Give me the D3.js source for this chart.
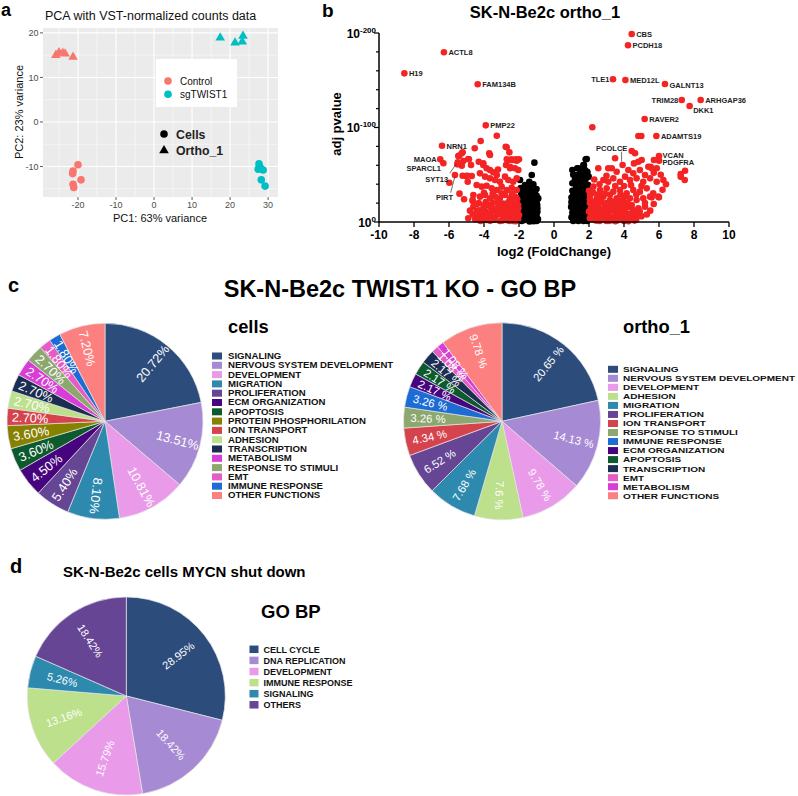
<!DOCTYPE html>
<html><head><meta charset="utf-8">
<script src="https://cdn.jsdelivr.net/npm/d3@7"></script>
<style>body{margin:0;background:#fff} svg{display:block} text{font-family:"Liberation Sans",Arial,sans-serif}</style>
</head><body><svg id="c" width="798" height="796"></svg>
<script>
// ---------- Panel a: PCA ----------
const pcaControlCells = [[-20,-9.6],[-21.3,-11],[-21.4,-11.6],[-19.2,-13.0],[-21.3,-14.0],[-21.1,-14.7]];
const pcaControlOrtho = [[-25.8,15.0],[-25.0,15.6],[-24.0,15.5],[-23.4,15.3],[-21.3,14.6]];
const pcaTwistCells = [[27.6,-9.4],[27.4,-10.6],[28.7,-10.8],[28.2,-13.0],[29.2,-14.4],[27.9,-10.2]];
const pcaTwistOrtho = [[17.4,18.9],[21.3,17.8],[23.2,18.0],[23.4,19.3]];
const pcaXTicks = [-20,-10,0,10,20,30];
const pcaYTicks = [-10,0,10,20];
const pcaGroups = ["Control","sgTWIST1"];
const pcaShapes = ["Cells","Ortho_1"];

// ---------- Panel b: volcano ----------
const volcLabeled = [
 ["ACTL8",-6.29,179.6],["H19",-8.55,157.3],["FAM134B",-4.36,145.7],["PMP22",-3.9,102.3],["NRN1",-6.4,80.7],
 ["MAOA",-6.5,66.3],["SPARCL1",-6.32,62.1],["SYT13",-5.5,63.2],["PIRT",-5.66,49.7],
 ["CBS",4.44,198.9],["PCDH18",4.23,187],["TLE1",3.37,151],["MED12L",4.08,150.3],["GALNT13",6.34,146],
 ["TRIM28",7.3,129.1],["ARHGAP36",8.38,129.1],["DKK1",7.75,122.8],["RAVER2",5.18,109],["ADAMTS19",5.85,91],
 ["PCOLCE",3.92,60.3],["VCAN",6.0,69.8],["PDGFRA",6.0,64.9]
];
const volcRed = [
 [-3.27,91.3],[-4.19,85.7],[-4.53,78],[-2.7,79],[-2.55,73.7],[-5.22,73.7],[-5.41,70.2],[-3.66,70.9],[-4.9,66.7],[-5.18,64.6],
 [-2.7,66.3],[-2.42,66.3],[-2.17,66.3],[-2.0,66.3],[-5.52,61],[-5.27,59.6],[-4.04,62.1],[-3.85,56.8],[-3.66,55],[-3.47,52.6],
 [-3.27,49.7],[-2.74,60.3],[-2.51,56.8],[-2.23,56.8],[-2.04,55],[-5.03,48.7],[-4.7,48.7],[-4.23,51.5],[-3.94,48],[-3.66,46.2],
 [-3.37,44.4],[-3.09,42.6],[-2.8,48],[-2.61,44.4],[-2.33,42.6],[-2.13,46.2],[-5.98,41.6],[-4.93,42.6],[-4.42,39.2],[-4.13,37.4],
 [-3.85,38.4],[-3.56,35.6],[-3.27,33.9],[-2.99,37.4],[-2.7,33.9],[-2.42,36.3],[-2.13,33.9],[-5.14,24],[-4.65,23.3],[-4.61,28.6],
 [-4.23,26.8],[-3.94,28.6],[-3.66,25.1],[-3.37,26.8],[-3.09,25.1],[-2.8,28.6],[-2.51,25.1],[-2.23,26.8],
 [-4.61,16.2],[-4.42,10.9],[-4.04,14.5],[-3.75,18],[-3.47,12.7],[-3.18,16.2],[-2.9,10.9],[-2.61,14.5],[-2.33,10.9],[-2.04,14.5],
 [-4.13,7.4],[-3.66,5.6],[-3.27,7.4],[-2.9,3.9],[-2.51,5.6],[-2.13,3.9],[-2.0,7.4],[-3.85,2.1],[-3.09,1.1],[-2.33,1.1],
 [-5.47,69.8],[-5.27,72.7],[-3.7,72.7],[-2.76,79.7],[-4.86,66.3],[-4.74,60.3],[-4.3,63.8],[-4.04,60.3],[-2.57,65.6],[-2.33,65.6],
 [-2.13,64.9],[-2.51,58.5],[-5.22,49],[-4.95,49],[-4.65,22.2],
 [-4.3,20],[-3.9,21],[-3.5,20],[-3.2,21],[-2.9,19.5],[-2.6,21],[-2.25,20],[-4.8,12],[-4.9,4],[-4.5,3],[-4.2,1],[-3.6,10],[-3.0,8],
 [-2.7,8.5],[-2.4,17],[-2.15,8],[-2.05,18],[-2.7,2],[-3.4,2.5],[-2.2,0.8],[-4.0,31],[-3.5,30],[-3.0,30.5],[-2.4,30],[-5.4,30],
 [-3.2,55.5],[-2.1,24],[-2.3,14.5],[-2.8,15.5],[-3.9,9],[-4.3,5.5],[-2.45,3],[-3.0,13.5],
 [-4.4,19],[-4.0,17.5],[-3.6,15],[-3.3,14],[-3.0,17],[-2.7,18],[-2.35,14.5],[-2.1,11.5],[-4.65,8],[-4.3,12.5],[-3.95,12],
 [-3.5,4.5],[-3.15,11],[-2.85,13.5],[-2.6,10.5],[-2.3,7],[-2.05,3],[-4.0,4],[-3.75,8.5],[-2.95,1.5],[-2.55,1.2],[-3.65,1.2],
 [-4.35,7.5],[-2.2,23],[-2.5,20.5],
 [2.19,100.2],[4.82,91],[4.99,91],
 [4.44,75.1],[4.63,72.7],[4.82,63.8],[5.01,65.6],[5.39,58.5],[5.58,56.8],[5.87,56.8],[2.53,56.8],[3.3,56.8],[3.58,53.2],[4.25,55],
 [4.53,51.5],[4.91,55],[5.2,49.7],[7.49,54.3],[7.24,50.8],[7.24,48],[7.47,44.4],
 [2.82,44.4],[3.1,42.6],[3.39,46.2],[3.77,42.6],[4.06,48],[4.34,44.4],[4.72,46.2],[5.1,42.6],[5.49,46.2],[5.87,42.6],[6.25,44.4],
 [2.25,37.4],[2.63,33.9],[3.01,35.6],[3.39,32.1],[3.77,33.9],[4.15,30.4],[4.53,33.9],[4.91,32.1],[5.3,35.6],[5.67,30.4],[2.06,28.6],
 [2.44,25.1],[2.82,26.8],[3.2,23.3],[3.58,25.1],[3.96,23.3],[4.34,25.1],[4.72,23.3],[5.1,25.1],[5.49,26.8],[5.96,26.8],[2.53,18],
 [2.91,16.2],[3.3,18],[3.67,16.2],[4.06,14.5],[4.44,18],[4.82,14.5],[5.2,16.2],[5.58,26.1],[6.0,26.1],
 [2.1,14],[2.3,10],[2.5,6],[2.2,3],[2.7,11],[2.9,5],[3.1,9],[3.3,2],[3.5,8],[3.7,4],[3.9,10],[4.1,6],[4.3,2.5],[2.05,20],[2.35,21],
 [2.7,21],[3.0,20],[3.4,12],[3.8,13],[4.2,9],[4.6,8],[5.0,6],[4.0,1],[2.6,1],[2.15,8.5],[2.45,14.5],[3.6,20],[4.5,13],[5.5,12],
 [2.0,33],[2.3,45],[2.6,40],[3.0,49],[3.5,38],[4.0,38],[4.4,39],[3.2,29],[2.9,30],[4.2,20],[5.2,20],[5.7,19],[6.2,34],[6.1,50],
 [5.7,52],[5.0,38],[6.4,40],[4.57,62],[3.49,67.4],[5.71,65.6],[5.52,58.5],[3.1,56.8],[2.05,4],[2.4,1.5],[3.0,1],[3.6,1.5],
 [2.8,8],[3.25,5],[3.85,6.5],[4.7,3],[2.15,17],[2.55,29],[3.8,29],[4.7,29],[4.4,8.5],
 [2.3,17],[2.6,14],[2.9,12],[3.2,14.5],[3.5,16],[3.9,17.5],[4.3,16],[2.2,12],[2.5,9.5],[2.75,3.5],[3.05,4],[3.4,4.5],[3.7,11],
 [4.0,12.5],[4.2,4],[4.5,5],[4.8,9.5],[2.1,6],[2.35,3.5],[2.05,24],[2.6,23],[3.35,21],[3.8,22],[4.05,27],[2.25,31],[4.9,11],
 [5.3,8],[3.15,1.2],[3.5,0.9],[4.25,0.9],[4.6,1.5],[2.0,11]
];
const volcBlack = [
 [-1.12,62.8],[-1.27,49.7],[-1.94,44.4],[-1.66,39.2],[-1.41,42.6],[-1.18,39.9],[-1.37,35.6],[-1.66,32.1],[-1.09,32.1],[-1.85,26.8],
 [-1.52,25.1],[-1.18,25.1],[-0.99,21.5],[-1.75,19.8],[-1.41,18],[-1.09,16.2],[-1.85,12.7],[-1.56,10.9],[-1.22,9.2],[-0.95,10.9],
 [-1.75,5.6],[-1.47,3.9],[-1.09,3.9],[-1.85,1.1],[-1.27,1.1],[-0.99,1.1],
 [-1.98,22],[-1.9,17],[-1.95,8],[-1.6,28],[-1.3,30],[-1.0,28],[-1.5,21],[-1.2,20],[-1.65,15],[-1.35,13],[-1.05,13],[-1.9,4],
 [-1.6,6],[-1.3,6.5],[-1.0,7],[-1.7,2],[-1.4,0.5],[-1.15,0.8],[-0.92,3],[-1.8,9.5],[-1.5,15.5],[-1.25,15],[-0.96,18],[-1.78,23],
 [-1.45,27],[-1.22,33],[-1.55,37],[-1.0,35],[-0.9,25],[-1.88,31],[-1.68,10.5],[-1.38,9],[-1.1,21.5],[-1.28,24],[-1.62,24],
 [-1.9,36],[-1.75,30],[-1.4,3],[-1.6,18.5],[-1.3,19],[-0.95,14.5],[-1.95,13],[-1.45,32],
 [1.87,66.7],[1.68,60.3],[1.39,56.8],[1.77,55],[1.49,51.5],[1.98,48],[1.14,40.9],[1.39,42.6],[1.68,39.2],[1.26,35.6],[1.58,33.9],
 [1.87,35.6],[1.1,28.6],[1.39,26.8],[1.68,28.6],[1.9,25.1],[1.2,21.5],[1.49,19.8],[1.77,20.8],[1.1,14.5],[1.39,12.7],[1.68,14.5],
 [1.9,10.9],[1.2,7.4],[1.49,5.6],[1.77,7.4],[1.1,1.1],[1.39,1.1],[1.68,1.1],[1.9,1.1],
 [1.0,5],[1.05,10],[1.25,3],[1.55,2.5],[1.85,4],[1.3,10],[1.6,9.5],[1.95,15],[1.15,17.5],[1.45,16],[1.75,17],[1.0,21],[1.3,24],
 [1.6,23.5],[1.85,29],[1.05,33],[1.35,31],[1.62,31.5],[1.95,39],[1.2,45],[1.52,45],[1.8,45],[1.1,50],[1.3,49],[1.9,52],[1.6,4],
 [1.25,13.5],[0.98,16],[1.55,12],[1.82,12],
 [1.05,55],[1.33,56.8],[1.71,60.3],[1.81,66.3],[1.52,55],[1.9,53.2],[1.05,41],[1.33,49.7],[1.0,26],[1.95,20],[1.45,37],[1.7,49]
];
const volcXTicks = [-10,-8,-6,-4,-2,0,2,4,6,8,10];
const volcYTicks = [0,100,200];

// ---------- Panel c: GO BP pies ----------
const cellsCats = ["SIGNALING","NERVOUS SYSTEM DEVELOPMENT","DEVELOPMENT","MIGRATION","PROLIFERATION","ECM ORGANIZATION","APOPTOSIS","PROTEIN PHOSPHORILATION","ION TRANSPORT","ADHESION","TRANSCRIPTION","METABOLISM","RESPONSE TO STIMULI","EMT","IMMUNE RESPONSE","OTHER FUNCTIONS"];
const cellsVals = [20.72,13.51,10.81,8.10,5.40,4.50,3.60,3.60,2.70,2.70,2.70,2.70,2.70,1.80,1.80,7.20];
const cellsLabels = ["20.72%","13.51%","10.81%","8.10%","5.40%","4.50%","3.60%","3.60%","2.70%","2.70%","2.70%","2.70%","2.70%","1.80%","1.80%","7.20%"];
const orthoCats = ["SIGNALING","NERVOUS SYSTEM DEVELOPMENT","DEVELOPMENT","ADHESION","MIGRATION","PROLIFERATION","ION TRANSPORT","RESPONSE TO STIMULI","IMMUNE RESPONSE","ECM ORGANIZATION","APOPTOSIS","TRANSCRIPTION","EMT","METABOLISM","OTHER FUNCTIONS"];
const orthoVals = [20.65,14.13,9.78,7.6,7.68,6.52,4.34,3.26,3.26,2.17,2.17,2.17,1.08,1.08,9.78];
const orthoLabels = ["20.65 %","14.13 %","9.78 %","7.6 %","7.68 %","6.52 %","4.34 %","3.26 %","3.26 %","2.17 %","2.17 %","2.17 %","1.08 %","1.08 %","9.78 %"];

// ---------- Panel d ----------
const mycnCats = ["CELL CYCLE","DNA REPLICATION","DEVELOPMENT","IMMUNE RESPONSE","SIGNALING","OTHERS"];
const mycnVals = [28.95,18.42,15.79,13.16,5.26,18.42];
const mycnLabels = ["28.95%","18.42%","15.79%","13.16%","5.26%","18.42%"];

const catColor = {
 "SIGNALING":"#2c4c7c","NERVOUS SYSTEM DEVELOPMENT":"#a68ad3","DEVELOPMENT":"#e99ae9","MIGRATION":"#2d8aae",
 "PROLIFERATION":"#654594","ECM ORGANIZATION":"#47047f","APOPTOSIS":"#0d5a2e","PROTEIN PHOSPHORILATION":"#878100",
 "ION TRANSPORT":"#d5434d","ADHESION":"#bce08b","TRANSCRIPTION":"#1c2d52","METABOLISM":"#d83dd7",
 "RESPONSE TO STIMULI":"#8ca86f","EMT":"#e55cc5","IMMUNE RESPONSE":"#1d6bd4","OTHER FUNCTIONS":"#fd8080"
};
const mycnColor = {"CELL CYCLE":"#2c4c7c","DNA REPLICATION":"#a68ad3","DEVELOPMENT":"#e99ae9","IMMUNE RESPONSE":"#bce08b","SIGNALING":"#2d8aae","OTHERS":"#654594"};

const svg = d3.select("#c");

// ================= Panel a =================
(function(){
  const g = svg.append("g");
  const x = d3.scaleLinear().domain([-29.2, 32.6]).range([43, 278]);
  const y = d3.scaleLinear().domain([-16.85, 21.1]).range([197, 28]);
  g.append("text").attr("x",1).attr("y",16).attr("font-size",18).attr("font-weight","bold").text("a");
  g.append("text").attr("x",45).attr("y",20).attr("font-size",12.5).attr("fill","#111").text("PCA with VST-normalized counts data");
  g.append("rect").attr("x",x.range()[0]).attr("y",y.range()[1]).attr("width",x.range()[1]-x.range()[0]).attr("height",y.range()[0]-y.range()[1]).attr("fill","#ebebeb");
  const minorX = pcaXTicks.map(t=>t-5).concat([35]).filter(t=>t>x.domain()[0]&&t<x.domain()[1]);
  const minorY = pcaYTicks.map(t=>t-5).filter(t=>t>y.domain()[0]&&t<y.domain()[1]);
  minorX.forEach(t=>g.append("line").attr("x1",x(t)).attr("x2",x(t)).attr("y1",y.range()[1]).attr("y2",y.range()[0]).attr("stroke","#fff").attr("stroke-width",0.5));
  minorY.forEach(t=>g.append("line").attr("y1",y(t)).attr("y2",y(t)).attr("x1",x.range()[0]).attr("x2",x.range()[1]).attr("stroke","#fff").attr("stroke-width",0.5));
  pcaXTicks.forEach(t=>{
    g.append("line").attr("x1",x(t)).attr("x2",x(t)).attr("y1",y.range()[1]).attr("y2",y.range()[0]).attr("stroke","#fff").attr("stroke-width",1.1);
    g.append("line").attr("x1",x(t)).attr("x2",x(t)).attr("y1",197).attr("y2",200).attr("stroke","#333").attr("stroke-width",0.8);
    g.append("text").attr("x",x(t)).attr("y",208).attr("text-anchor","middle").attr("font-size",9).attr("fill","#4d4d4d").text(t);
  });
  pcaYTicks.forEach(t=>{
    g.append("line").attr("y1",y(t)).attr("y2",y(t)).attr("x1",x.range()[0]).attr("x2",x.range()[1]).attr("stroke","#fff").attr("stroke-width",1.1);
    g.append("line").attr("y1",y(t)).attr("y2",y(t)).attr("x1",40).attr("x2",43).attr("stroke","#333").attr("stroke-width",0.8);
    g.append("text").attr("x",38.5).attr("y",y(t)+3.2).attr("text-anchor","end").attr("font-size",9).attr("fill","#4d4d4d").text(t);
  });
  g.append("text").attr("x",160).attr("y",222).attr("text-anchor","middle").attr("font-size",11).attr("fill","#111").text("PC1: 63% variance");
  g.append("text").attr("transform","translate(22.5,112) rotate(-90)").attr("text-anchor","middle").attr("font-size",11).attr("fill","#111").text("PC2: 23% variance");
  const col = {"Control":"#f8766d","sgTWIST1":"#00bfc4"};
  const tri = d3.symbol().type(d3.symbolTriangle).size(40);
  const drawC = (arr,c)=>g.selectAll(null).data(arr).enter().append("circle").attr("cx",d=>x(d[0])).attr("cy",d=>y(d[1])).attr("r",3.8).attr("fill",c);
  const drawT = (arr,c)=>g.selectAll(null).data(arr).enter().append("path").attr("d",tri).attr("transform",d=>`translate(${x(d[0])},${y(d[1])})`).attr("fill",c);
  drawC(pcaControlCells,col.Control); drawT(pcaControlOrtho,col.Control);
  drawC(pcaTwistCells,col.sgTWIST1); drawT(pcaTwistOrtho,col.sgTWIST1);
  g.append("rect").attr("x",156).attr("y",59).attr("width",81).attr("height",48).attr("fill","#fff");
  pcaGroups.forEach((k,i)=>{
    g.append("circle").attr("cx",168).attr("cy",81+i*13.3).attr("r",3.8).attr("fill",col[k]);
    g.append("text").attr("x",180).attr("y",84.5+i*13.3).attr("font-size",10).attr("fill","#111").text(k);
  });
  pcaShapes.forEach((k,i)=>{
    if(i===0) g.append("circle").attr("cx",164).attr("cy",134).attr("r",3.8).attr("fill","#000");
    else g.append("path").attr("d",tri).attr("transform","translate(164,150.5)").attr("fill","#000");
    g.append("text").attr("x",176).attr("y",138.5+i*16).attr("font-size",12.3).attr("font-weight","bold").attr("fill","#222").text(k);
  });
})();

// ================= Panel b =================
(function(){
  const g = svg.append("g");
  const x = d3.scaleLinear().domain([-10,10]).range([379,729]);
  const y = d3.scaleLinear().domain([0,200]).range([222,33]);
  g.append("text").attr("x",322).attr("y",17).attr("font-size",19).attr("font-weight","bold").text("b");
  g.append("text").attr("x",545).attr("y",18).attr("text-anchor","middle").attr("font-size",16.5).attr("font-weight","bold").text("SK-N-Be2c ortho_1");
  g.selectAll(null).data(volcBlack).enter().append("circle").attr("cx",d=>x(d[0])).attr("cy",d=>y(d[1])).attr("r",3.3).attr("fill","#000");
  g.selectAll(null).data(volcRed).enter().append("circle").attr("cx",d=>x(d[0])).attr("cy",d=>y(d[1])).attr("r",3.3).attr("fill","#f42424");
  g.selectAll(null).data(volcLabeled).enter().append("circle").attr("cx",d=>x(d[1])).attr("cy",d=>y(d[2])).attr("r",3.3).attr("fill","#f42424");
  const place = {
    "MAOA":{dx:-3.5,dy:3,a:"end"},"SPARCL1":{dx:-2.5,dy:7.5,a:"end"},"TLE1":{dx:-3.5,dy:2.8,a:"end"},"TRIM28":{dx:-3.5,dy:2.8,a:"end"},
    "DKK1":{dx:3.5,dy:7,a:"start"},"GALNT13":{dx:4.5,dy:4,a:"start"},
    "SYT13":{dx:-32.5,dy:19.5,a:"start",lx1:-8,ly1:11,lx2:-1.5,ly2:1.5},
    "PIRT":{dx:-19,dy:25,a:"start",lx1:-4.3,ly1:17.7,lx2:0,ly2:1.5},
    "PCOLCE":{dx:-26.5,dy:-14,a:"start",lx1:-1,ly1:-13.3,lx2:-1,ly2:-3.3},
    "PDGFRA":{dx:3.5,dy:4.8,a:"start"},"VCAN":{dx:3.5,dy:1.7,a:"start"}
  };
  volcLabeled.forEach(d=>{
    const p = place[d[0]]||{dx:4.5,dy:2.8,a:"start"};
    const cx=x(d[1]), cy=y(d[2]);
    if(p.lx1!==undefined) g.append("line").attr("x1",cx+p.lx1).attr("y1",cy+p.ly1).attr("x2",cx+p.lx2).attr("y2",cy+p.ly2).attr("stroke","#333").attr("stroke-width",0.7);
    g.append("text").attr("x",cx+p.dx).attr("y",cy+p.dy).attr("text-anchor",p.a).attr("font-size",7.5).attr("font-weight","bold").attr("fill","#222").text(d[0]);
  });
  g.append("line").attr("x1",379).attr("x2",729).attr("y1",222).attr("y2",222).attr("stroke","#000").attr("stroke-width",1.5);
  g.append("line").attr("x1",379).attr("x2",379).attr("y1",222.7).attr("y2",33).attr("stroke","#000").attr("stroke-width",1.5);
  volcXTicks.forEach(t=>{
    g.append("line").attr("x1",x(t)).attr("x2",x(t)).attr("y1",222).attr("y2",227).attr("stroke","#000").attr("stroke-width",1.3);
    g.append("text").attr("x",x(t)).attr("y",239).attr("text-anchor","middle").attr("font-size",12).attr("font-weight","bold").text(t);
  });
  d3.range(0,201,20).forEach(t=>{
    const major = volcYTicks.includes(t);
    g.append("line").attr("x1",379).attr("x2",major?374:376).attr("y1",y(t)).attr("y2",y(t)).attr("stroke","#000").attr("stroke-width",1.2);
  });
  volcYTicks.forEach(t=>{
    const tx = g.append("text").attr("x",376).attr("y",y(t)+4.5).attr("text-anchor","end").attr("font-weight","bold").attr("font-size",12);
    tx.append("tspan").text("10");
    tx.append("tspan").attr("dy",-5).attr("font-size",8).text(t===0?"0":"-"+t);
  });
  g.append("text").attr("transform","translate(341,124) rotate(-90)").attr("text-anchor","middle").attr("font-size",13).attr("font-weight","bold").text("adj pvalue");
  g.append("text").attr("x",554).attr("y",256).attr("text-anchor","middle").attr("font-size",13).attr("font-weight","bold").text("log2 (FoldChange)");
})();

// ================= Pie helper =================
function drawPie(g, cats, vals, labels, colors, cx, cy, R, fontSize, labR){
  const pie = d3.pie().sort(null).value(d=>d.v);
  const arcs = pie(cats.map((c,i)=>({c, v:vals[i], l:labels[i]})));
  const arc = d3.arc().innerRadius(0).outerRadius(R);
  const gg = g.append("g").attr("transform",`translate(${cx},${cy})`);
  gg.selectAll(null).data(arcs).enter().append("path").attr("d",arc).attr("fill",d=>colors[d.data.c]).attr("stroke","#e4e4e4").attr("stroke-width",0.7);
  arcs.forEach(d=>{
    const a = (d.startAngle+d.endAngle)/2;
    const deg = a*180/Math.PI;
    let rot = deg-90; if(deg>192) rot += 180;
    const px = labR*Math.sin(a), py = -labR*Math.cos(a);
    gg.append("text").attr("transform",`translate(${px},${py}) rotate(${rot})`).attr("text-anchor","middle").attr("dominant-baseline","central")
      .attr("font-size",fontSize).attr("fill","#fff").text(d.data.l);
  });
}
// legend: compact squat text (short glyphs stretched to the reference widths)
function drawLegend(g, cats, colors, x0, y0, step, fs, widthFs, sw, sh, tx){
  cats.forEach((c,i)=>{
    const yy = y0+i*step;
    g.append("rect").attr("x",x0).attr("y",yy-sh/2).attr("width",sw).attr("height",sh).attr("fill",colors[c]);
    const t = g.append("text").attr("x",tx).attr("y",yy+fs*0.36).attr("font-size",fs).attr("font-weight","bold").attr("fill","#111").text(c);
    const len = t.node().getComputedTextLength();
    t.attr("textLength", len*widthFs/fs).attr("lengthAdjust","spacingAndGlyphs");
  });
}

// ================= Panel c =================
(function(){
  const g = svg.append("g");
  g.append("text").attr("x",8).attr("y",292).attr("font-size",20).attr("font-weight","bold").text("c");
  g.append("text").attr("x",400).attr("y",297).attr("text-anchor","middle").attr("font-size",23.5).attr("font-weight","bold").text("SK-N-Be2c TWIST1 KO - GO BP");
  drawPie(g, cellsCats, cellsVals, cellsLabels, catColor, 105, 421.3, 98, 12.8, 75);
  drawPie(g, orthoCats, orthoVals, orthoLabels, catColor, 502, 421.3, 98.5, 11.3, 74);
  g.append("text").attr("x",228).attr("y",333).attr("font-size",18.3).attr("font-weight","bold").text("cells");
  g.append("text").attr("x",623).attr("y",333).attr("font-size",18.3).attr("font-weight","bold").text("ortho_1");
  drawLegend(g, cellsCats, catColor, 212, 356, 9.3, 8.25, 9.6, 10, 7, 228);
  drawLegend(g, orthoCats, catColor, 608, 369.3, 9.03, 8.0, 10, 10, 7, 623);
})();

// ================= Panel d =================
(function(){
  const g = svg.append("g");
  g.append("text").attr("x",10).attr("y",573).attr("font-size",20).attr("font-weight","bold").text("d");
  g.append("text").attr("x",63).attr("y",577).attr("font-size",15).attr("font-weight","bold").text("SK-N-Be2c cells MYCN shut down");
  g.append("text").attr("x",261).attr("y",618).attr("font-size",18.5).attr("font-weight","bold").text("GO BP");
  drawPie(g, mycnCats, mycnVals, mycnLabels, mycnColor, 126.3, 696, 99, 11, 66);
  drawLegend(g, mycnCats, mycnColor, 249.5, 649.3, 11.1, 9, 9, 9, 7.5, 263.5);
})();
</script></body></html>
